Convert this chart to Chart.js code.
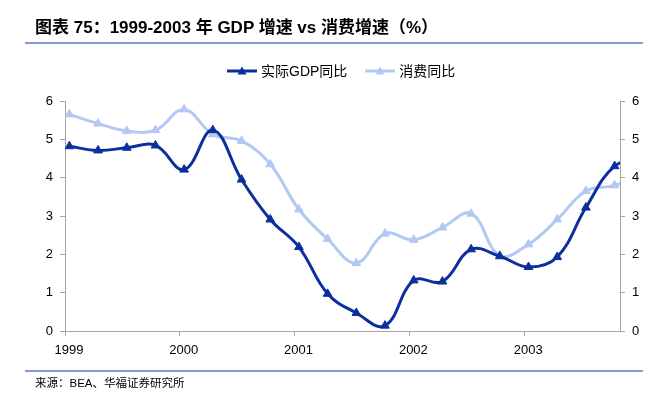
<!DOCTYPE html>
<html><head><meta charset="utf-8">
<script src="https://cdn.jsdelivr.net/npm/chart.js@4/dist/chart.umd.min.js"></script>
<style>
html,body{margin:0;padding:0;background:#fff;}
#wrap{position:relative;width:667px;height:395px;overflow:hidden;font-family:"Liberation Sans","Noto Sans CJK SC",sans-serif;color:#000;}
#c{position:absolute;left:0;top:0;}
.title{position:absolute;left:35px;top:17px;font-size:17px;font-weight:bold;line-height:22px;white-space:nowrap;}
.rule{position:absolute;left:25px;width:618px;height:2px;background:#7f9fd4;}
.legend{position:absolute;top:62px;left:227px;display:flex;align-items:center;font-size:14px;line-height:18px;white-space:nowrap;}
.legend .item{display:flex;align-items:center;}
.legend svg{margin-right:4px;}
.source{position:absolute;left:35px;top:376px;font-size:11.5px;line-height:14px;white-space:nowrap;}
</style></head>
<body>
<div id="wrap">
  <canvas id="c" width="667" height="395"></canvas>
  <div class="title">图表 75：1999-2003 年 GDP 增速 vs 消费增速（%）</div>
  <div class="rule" style="top:42px"></div>
  <div class="legend" id="legend"></div>
  <div class="rule" style="top:370px"></div>
  <div class="source">来源：BEA、华福证券研究所</div>
</div>
<script>
// ---- data ----
const quarters = [
  '1999Q1','1999Q2','1999Q3','1999Q4',
  '2000Q1','2000Q2','2000Q3','2000Q4',
  '2001Q1','2001Q2','2001Q3','2001Q4',
  '2002Q1','2002Q2','2002Q3','2002Q4',
  '2003Q1','2003Q2','2003Q3','2003Q4',
  '2004Q1'
];
const gdpYoY = [
  4.82, 4.71, 4.78, 4.84,
  4.21, 5.24, 3.95, 2.91,
  2.19, 0.97, 0.47, 0.14,
  1.32, 1.29, 2.13, 1.95,
  1.67, 1.93, 3.22, 4.30,
  4.50
];
const consumptionYoY = [
  5.65, 5.41, 5.22, 5.24,
  5.78, 5.13, 4.96, 4.35,
  3.17, 2.40, 1.77, 2.54,
  2.38, 2.70, 3.06, 1.97,
  2.26, 2.91, 3.65, 3.80,
  4.10
];
const yearTicks = [1999, 2000, 2001, 2002, 2003];
const valueTicks = [0, 1, 2, 3, 4, 5, 6];
const seriesNames = ['实际GDP同比', '消费同比'];
const seriesColors = ['#0c2f9e', '#b4c8f6'];

// quarter label -> fractional year (plotted mid first month of quarter)
function quarterToYear(q) {
  const y = parseInt(q.slice(0, 4), 10);
  const n = parseInt(q.slice(5), 10);
  return y + (n - 1) / 4 + 0.038;
}
function toPoints(values) {
  return quarters.map((q, i) => ({ x: quarterToYear(q), y: values[i] }));
}

// legend (HTML)
const legend = document.getElementById('legend');
seriesNames.forEach((name, i) => {
  const item = document.createElement('div');
  item.className = 'item';
  if (i > 0) item.style.marginLeft = '18px';
  const col = seriesColors[i];
  item.innerHTML = '<svg width="30" height="10" viewBox="0 0 30 10">' +
    '<line x1="0" y1="5" x2="30" y2="5" stroke="' + col + '" stroke-width="3"/>' +
    '<polygon points="15,0.5 19.5,8.5 10.5,8.5" fill="' + col + '"/></svg>' +
    '<span>' + name + '</span>';
  legend.appendChild(item);
});

const axisColor = '#a6a6a6';
const tickFont = { family: '"Liberation Sans", Arial, sans-serif', size: 13 };

function yAxis(position, width) {
  return {
    type: 'linear', position: position, min: 0, max: 6,
    afterBuildTicks: s => { s.ticks = valueTicks.map(v => ({ value: v })); },
    afterFit: s => { s.width = width; },
    ticks: { color: '#000', font: tickFont, padding: 7, callback: v => String(v) },
    grid: { drawOnChartArea: false, drawTicks: true, tickLength: 5, color: axisColor },
    border: { display: true, color: axisColor, width: 1 }
  };
}

new Chart(document.getElementById('c'), {
  type: 'line',
  data: {
    datasets: [
      {
        label: seriesNames[0], data: toPoints(gdpYoY), yAxisID: 'y',
        borderColor: seriesColors[0], backgroundColor: seriesColors[0],
        borderWidth: 3, tension: 0.4, pointStyle: 'triangle', pointRadius: 5,
        pointBorderWidth: 1, pointBorderColor: seriesColors[0], order: 1
      },
      {
        label: seriesNames[1], data: toPoints(consumptionYoY), yAxisID: 'y',
        borderColor: seriesColors[1], backgroundColor: seriesColors[1],
        borderWidth: 3, tension: 0.4, pointStyle: 'triangle', pointRadius: 5,
        pointBorderWidth: 1, pointBorderColor: seriesColors[1], order: 2
      }
    ]
  },
  options: {
    responsive: false,
    animation: false,
    devicePixelRatio: 1,
    layout: { padding: { top: 101, left: 0, right: 0, bottom: 0 } },
    plugins: { legend: { display: false }, tooltip: { enabled: false } },
    scales: {
      x: {
        type: 'linear', min: 1999, max: 2003.835,
        afterBuildTicks: s => { s.ticks = yearTicks.map(v => ({ value: v })); },
        afterFit: s => { s.height = 64; },
        ticks: { color: '#000', font: tickFont, padding: 7, labelOffset: 4,
                 maxRotation: 0, autoSkip: false, callback: v => String(v) },
        grid: { drawOnChartArea: false, drawTicks: true, tickLength: 5, color: axisColor },
        border: { display: true, color: axisColor, width: 1 }
      },
      y: yAxis('left', 65),
      y2: yAxis('right', 47)
    }
  }
});
</script>
</body></html>
